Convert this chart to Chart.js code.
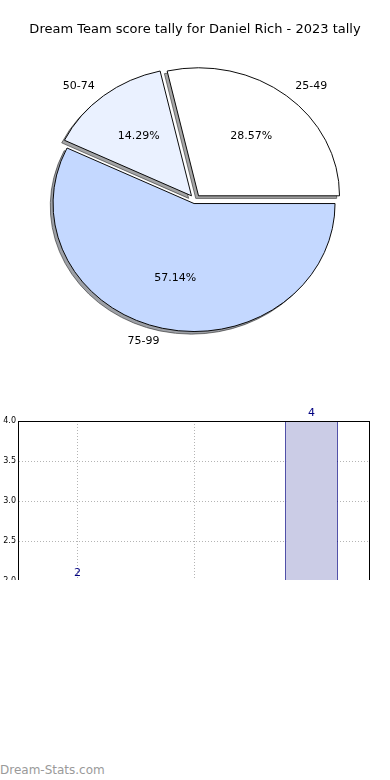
<!DOCTYPE html>
<html>
<head>
<meta charset="utf-8">
<script src="https://cdn.jsdelivr.net/npm/chart.js@4.4.1/dist/chart.umd.min.js"></script>
<style>
  html, body { margin: 0; padding: 0; background: #fff; }
  body { width: 390px; height: 780px; position: relative; overflow: hidden; }
  #pie { display: block; }
  #barWrap { width: 390px; height: 180px; overflow: hidden; }
  #bars { display: block; }
  .mark {
    position: absolute; left: 0; top: 762px;
    font: 12px "DejaVu Sans", sans-serif; line-height: 16px; color: #9a9a9a;
  }
</style>
</head>
<body>
<canvas id="pie" width="390" height="400"></canvas>
<div id="barWrap"><canvas id="bars" width="390" height="380"></canvas></div>
<div class="mark">Dream-Stats.com</div>
<script>
// ---------- dados ----------
const bands = ["25-49", "50-74", "75-99"];
const counts = [2, 1, 4];
const yTicks = [0, 0.5, 1, 1.5, 2, 2.5, 3, 3.5, 4];

const sliceColors = ["#ffffff", "#eaf1ff", "#c4d8ff"];
const explode = [0.04, 0.04, 0.03];

const FONT = "DejaVu Sans";
const SY = 128 / 141; // a pizza do original é achatada na vertical

// ---------- pizza ----------
const total = counts.reduce((s, v) => s + v, 0);

// chart.js desenha no sentido horário, o original no anti-horário: inverte a ordem
const pieLabels = bands.slice().reverse();
const pieValues = counts.slice().reverse();
const pieColors = sliceColors.slice().reverse();
const pieExplode = explode.slice().reverse();

let baseX = 0, baseY = 0;

function squash(ctx) {
  ctx.translate(baseX, baseY);
  ctx.scale(1, SY);
  ctx.translate(-baseX, -baseY);
}

const pieLook = {
  id: "pieLook",
  afterDatasetsUpdate(chart) {
    const arcs = chart.getDatasetMeta(0).data;
    arcs.forEach((arc, i) => {
      baseX = arc.x;
      baseY = arc.y;
      const mid = (arc.startAngle + arc.endAngle) / 2;
      const d = pieExplode[i] * arc.outerRadius;
      arc.x += Math.cos(mid) * d;
      arc.y += Math.sin(mid) * d;
    });
  },
  beforeDatasetsDraw(chart) {
    const ctx = chart.ctx;
    const arcs = chart.getDatasetMeta(0).data;
    // sombra
    ctx.save();
    ctx.translate(-2.8, 2.6);
    squash(ctx);
    ctx.filter = "brightness(0.3) opacity(0.5)";
    arcs.forEach((arc) => arc.draw(ctx));
    ctx.restore();
    // fatias
    ctx.save();
    squash(ctx);
  },
  afterDatasetsDraw(chart) {
    const ctx = chart.ctx;
    ctx.restore();
    const arcs = chart.getDatasetMeta(0).data;
    ctx.save();
    ctx.fillStyle = "#000";
    ctx.font = `11px "${FONT}"`;
    ctx.textBaseline = "middle";
    arcs.forEach((arc, i) => {
      const mid = (arc.startAngle + arc.endAngle) / 2;
      const r = arc.outerRadius;
      const cx = Math.cos(mid), cy = Math.sin(mid);
      const px = (k) => arc.x + cx * r * k;
      const py = (k) => baseY + (arc.y - baseY + cy * r * k) * SY;
      ctx.textAlign = cx > 0 ? "left" : "right";
      ctx.fillText(pieLabels[i], px(1.1), py(1.1));
      ctx.textAlign = "center";
      ctx.fillText(((pieValues[i] / total) * 100).toFixed(2) + "%", px(0.6), py(0.6));
    });
    ctx.restore();
  },
};

new Chart(document.getElementById("pie"), {
  type: "pie",
  data: {
    labels: pieLabels,
    datasets: [{
      data: pieValues,
      backgroundColor: pieColors,
      borderColor: "#000",
      borderWidth: 1,
      clip: false,
    }],
  },
  options: {
    responsive: false,
    animation: false,
    rotation: 90,
    radius: 141,
    layout: { padding: { top: 0, right: 0, bottom: 38, left: 0 } },
    plugins: {
      legend: { display: false },
      tooltip: { enabled: false },
      title: {
        display: true,
        text: "Dream Team score tally for Daniel Rich - 2023 tally",
        color: "#000",
        font: { family: FONT, size: 13, weight: "normal" },
        padding: { top: 22, bottom: 0 },
      },
    },
  },
  plugins: [pieLook],
});

// ---------- barras ----------
const frame = {
  id: "frame",
  afterDraw(chart) {
    const { ctx, chartArea: a } = chart;
    ctx.save();
    ctx.strokeStyle = "#000";
    ctx.lineWidth = 1;
    ctx.strokeRect(Math.round(a.left) - 0.5, Math.round(a.top) + 0.5, Math.round(a.right - a.left), Math.round(a.bottom - a.top));
    ctx.restore();
  },
};

const valueLabels = {
  id: "valueLabels",
  afterDatasetsDraw(chart) {
    const ctx = chart.ctx;
    const bars = chart.getDatasetMeta(0).data;
    ctx.save();
    ctx.fillStyle = "#000080";
    ctx.font = `11px "${FONT}"`;
    ctx.textAlign = "center";
    ctx.textBaseline = "middle";
    bars.forEach((bar, i) => ctx.fillText(String(counts[i]), bar.x, bar.y - 8));
    ctx.restore();
  },
};

const gridStyle = { color: "#b4b4b4", lineWidth: 1, drawTicks: false };

new Chart(document.getElementById("bars"), {
  type: "bar",
  data: {
    labels: bands,
    datasets: [{
      data: counts,
      backgroundColor: "#cbcce6",
      borderColor: "#000080",
      borderWidth: 1,
      barPercentage: 0.45,
      categoryPercentage: 1,
    }],
  },
  options: {
    responsive: false,
    animation: false,
    layout: { padding: { top: 21, right: 20, bottom: 19, left: 0 } },
    plugins: { legend: { display: false }, tooltip: { enabled: false } },
    scales: {
      x: {
        offset: true,
        z: 1,
        grid: { ...gridStyle, offset: false },
        border: { display: false, dash: [1, 2] },
        ticks: { color: "#000", font: { family: FONT, size: 8 } },
        afterFit: (s) => { s.height = 20; },
      },
      y: {
        min: yTicks[0],
        max: yTicks[yTicks.length - 1],
        z: 1,
        afterBuildTicks: (s) => { s.ticks = yTicks.map((v) => ({ value: v })); },
        ticks: {
          color: "#000",
          padding: 3,
          font: { family: FONT, size: 8 },
          callback: (v) => Number(v).toFixed(1),
        },
        grid: gridStyle,
        border: { display: false, dash: [1, 2] },
        afterFit: (s) => { s.width = 19; },
      },
    },
  },
  plugins: [frame, valueLabels],
});
</script>
</body>
</html>
